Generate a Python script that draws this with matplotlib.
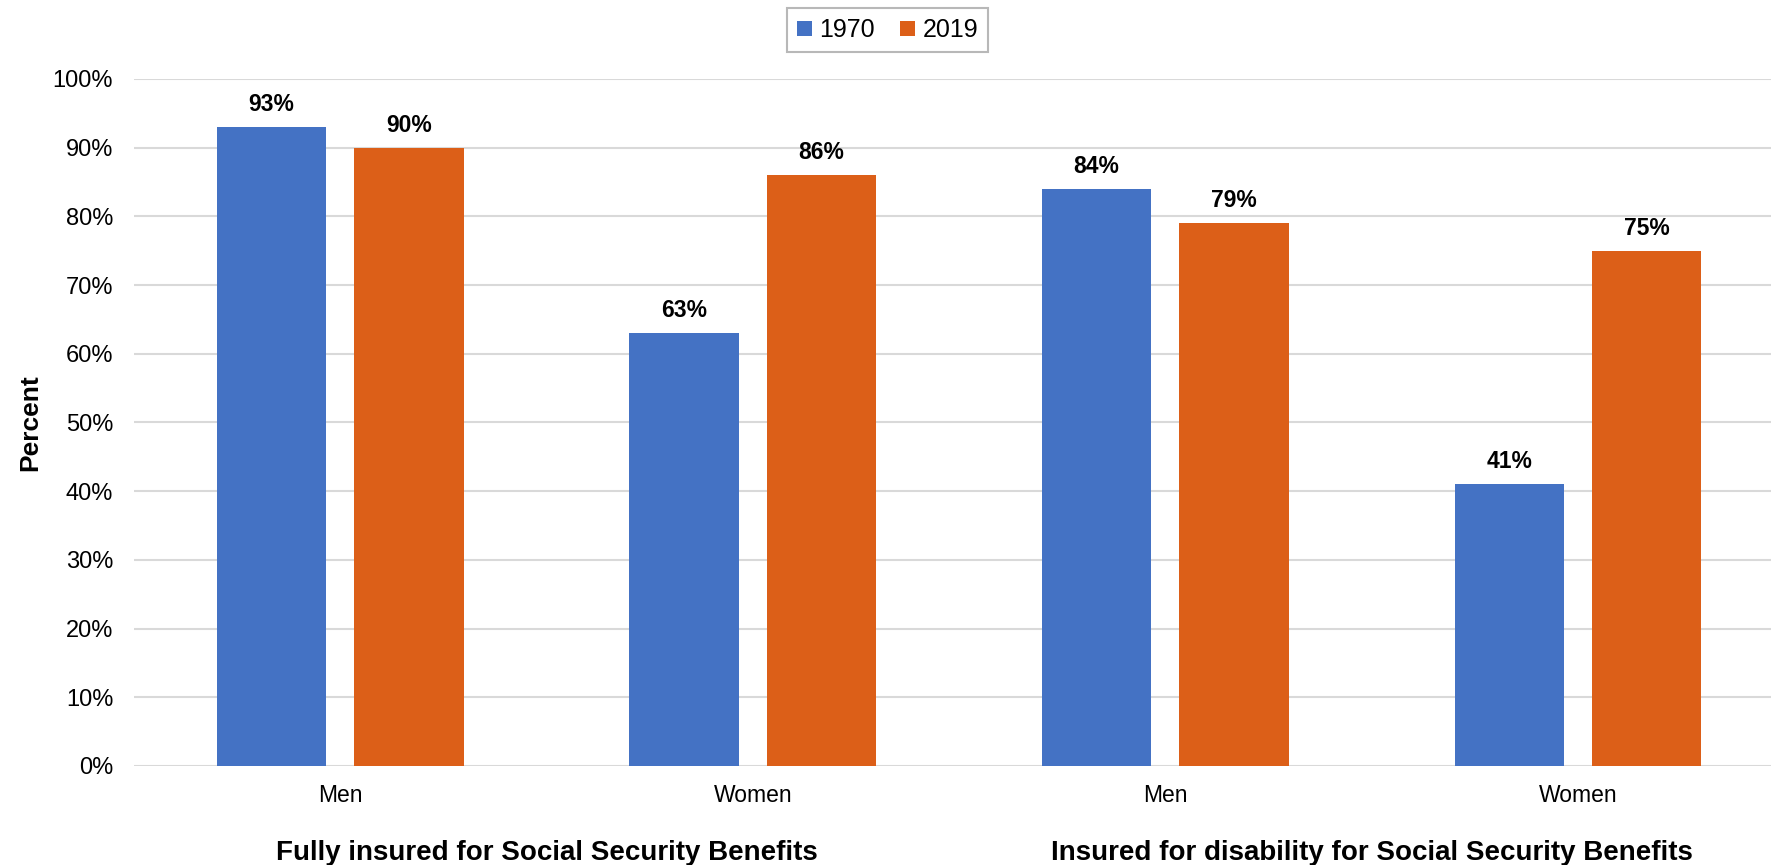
import numpy as np
import matplotlib.pyplot as plt

plt.rcParams['font.family'] = ['Liberation Sans', 'DejaVu Sans']

categories = ['Men', 'Women', 'Men', 'Women']
groups = ['Fully insured for Social Security Benefits',
          'Insured for disability for Social Security Benefits']
years = ['1970', '2019']
pct_1970 = [93, 63, 84, 41]
pct_2019 = [90, 86, 79, 75]

blue = '#4472C4'
orange = '#DC5F18'

fig = plt.figure(figsize=(17.71, 8.65), dpi=100)
ax = fig.add_axes([0.0757, 0.1145, 0.9317, 0.7942])

x = np.arange(len(categories))
w = 0.265
off = 0.1665
b1 = ax.bar(x - off, pct_1970, w, color=blue, label=years[0], zorder=3)
b2 = ax.bar(x + off, pct_2019, w, color=orange, label=years[1], zorder=3)

for bars in (b1, b2):
    for r in bars:
        h = r.get_height()
        ax.annotate(f'{h:.0f}%', (r.get_x() + r.get_width() / 2, h),
                    xytext=(0, 8), textcoords='offset points',
                    ha='center', va='bottom', fontsize=16.5, fontweight='bold')

ax.set_xlim(-0.5, 3.5)
ax.set_ylim(0, 100)
ax.set_yticks(range(0, 101, 10))
ax.set_yticklabels([f'{v}%' for v in range(0, 101, 10)], fontsize=17)
ax.set_xticks(x)
ax.set_xticklabels(categories, fontsize=16.5)
ax.tick_params(axis='both', length=0)
ax.tick_params(axis='y', pad=15)
ax.tick_params(axis='x', pad=13)
ax.grid(axis='y', color='#D9D9D9', linewidth=1.5, zorder=0)
for s in ax.spines.values():
    s.set_visible(False)

ax.set_ylabel('Percent', fontsize=19, fontweight='bold')
ax.yaxis.set_label_coords(-0.0557, 0.5)

# group titles under the category labels
for i, g in enumerate(groups):
    ax.text(0.25 + 0.5 * i, -0.126, g, transform=ax.transAxes,
            ha='center', va='center', fontsize=20, fontweight='bold')

leg = fig.legend(loc='center', bbox_to_anchor=(0.501, 0.965), ncol=2,
                 fontsize=18, frameon=True, fancybox=False,
                 handlelength=0.6, handleheight=0.6, handletextpad=0.3,
                 columnspacing=1.0, borderpad=0.4)
leg.get_frame().set_edgecolor('#A6A6A6')
leg.get_frame().set_linewidth(1.5)

fig.savefig('out.png', dpi=100)
